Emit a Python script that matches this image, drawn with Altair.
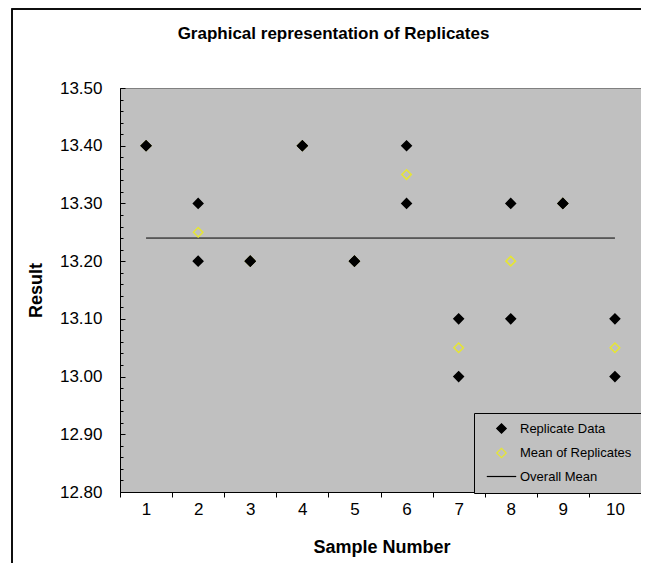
import altair as alt
import pandas as pd
import numpy as np

# ---- data ----
samples = [1, 2, 3, 4, 5, 6, 7, 8, 9, 10]
replicate_1 = [13.40, 13.30, 13.20, 13.40, 13.20, 13.40, 13.10, 13.30, 13.30, 13.10]
replicate_2 = [13.40, 13.20, 13.20, 13.40, 13.20, 13.30, 13.00, 13.10, 13.30, 13.00]
series_names = ["Replicate Data", "Mean of Replicates", "Overall Mean"]

# axis tick values
y_major_ticks = [12.80, 12.90, 13.00, 13.10, 13.20, 13.30, 13.40, 13.50]
y_minor_ticks = [round(12.80 + 0.02 * i, 2) for i in range(36)]
x_boundaries = [0.5 + i for i in range(11)]

FONT = "Liberation Sans"
PLOT_BG = "#C0C0C0"
YELLOW = "#E6E632"
LINE_SYMBOL = "M-3.1,0L3.1,0"  # legend glyph for the overall-mean line

means = [(a + b) / 2 for a, b in zip(replicate_1, replicate_2)]
overall_mean = float(np.mean(replicate_1 + replicate_2))

rows = []
for s, m in zip(samples, means):
    rows.append({"sample": s, "value": m, "series": series_names[1]})
for s, a, b in zip(samples, replicate_1, replicate_2):
    rows.append({"sample": s, "value": a, "series": series_names[0]})
    rows.append({"sample": s, "value": b, "series": series_names[0]})
points_df = pd.DataFrame(rows)

line_df = pd.DataFrame({
    "sample": [samples[0], samples[-1]],
    "value": [overall_mean, overall_mean],
    "series": [series_names[2], series_names[2]],
})

W, H = 521, 404
xscale = alt.Scale(domain=[0.5, 10.5], nice=False, zero=False)
yscale = alt.Scale(domain=[12.8, 13.5], nice=False, zero=False)

legend = alt.Legend(
    title=None, orient="none", legendX=354, legendY=325,
    fillColor=PLOT_BG, strokeColor="black", padding=9, cornerRadius=0,
    labelFont=FONT, labelFontSize=13, labelColor="black", labelOffset=12,
    symbolOffset=12, rowPadding=9.5, symbolStrokeWidth=1.2, symbolSize=90,
)

shape_enc = alt.Shape("series:N", scale=alt.Scale(domain=series_names, range=["diamond", "diamond", LINE_SYMBOL]), legend=legend)
fill_enc = alt.Fill("series:N", scale=alt.Scale(domain=series_names, range=["black", "transparent", "transparent"]), legend=legend)
stroke_enc = alt.Stroke("series:N", scale=alt.Scale(domain=series_names, range=["black", YELLOW, "black"]), legend=legend)

x_main_axis = alt.Axis(
    values=samples, format="d", ticks=False, domain=True, domainColor="black",
    labelFont=FONT, labelFontSize=17, labelColor="black", labelPadding=9,
    labelFlush=False, labelOverlap=False, grid=False, orient="bottom",
    title="Sample Number", titleFont=FONT, titleFontSize=18, titleFontWeight="bold",
    titleColor="black", titleX=W / 2 + 1, titleY=60, titleAlign="center", titleBaseline="alphabetic",
)
y_main_axis = alt.Axis(
    values=y_major_ticks, format=".2f", ticks=False, domain=True, domainColor="black",
    labelFont=FONT, labelFontSize=17, labelColor="black", labelPadding=18,
    labelOverlap=False, grid=False, orient="left",
    title="Result", titleFont=FONT, titleFontSize=18, titleFontWeight="bold",
    titleColor="black", titleX=-79, titleY=H / 2, titleAngle=-90,
    titleAlign="center", titleBaseline="alphabetic",
)

points = alt.Chart(points_df).mark_point(strokeWidth=1.5, opacity=1, size=90).encode(
    x=alt.X("sample:Q", scale=xscale, axis=x_main_axis),
    y=alt.Y("value:Q", scale=yscale, axis=y_main_axis),
    shape=shape_enc, fill=fill_enc, stroke=stroke_enc,
)

mean_line = alt.Chart(line_df).mark_line(strokeWidth=1).encode(
    x=alt.X("sample:Q", scale=xscale, axis=None),
    y=alt.Y("value:Q", scale=yscale, axis=None),
    stroke=stroke_enc,
)

# inside tick marks on the y axis and boundary ticks on the x axis
minor_ticks = alt.Chart(line_df).mark_point(opacity=0).encode(
    x=alt.X("sample:Q", scale=xscale, axis=alt.Axis(
        values=x_boundaries, labels=False, domain=False, ticks=True, tickSize=5,
        tickColor="black", grid=False, orient="bottom", title=None)),
    y=alt.Y("value:Q", scale=yscale, axis=alt.Axis(
        values=y_minor_ticks, labels=False, domain=False, ticks=True, tickSize=3,
        tickColor="black", grid=False, orient="left", offset=-3, title=None)),
)
major_ticks = alt.Chart(line_df).mark_point(opacity=0).encode(
    x=alt.X("sample:Q", scale=xscale, axis=None),
    y=alt.Y("value:Q", scale=yscale, axis=alt.Axis(
        values=y_major_ticks, labels=False, domain=False, ticks=True, tickSize=5,
        tickColor="black", grid=False, orient="left", offset=-5, title=None)),
)

frame = alt.Chart(line_df).mark_rect(fillOpacity=0, stroke="black", strokeWidth=1.5, clip=False).encode(
    x=alt.value(-108), x2=alt.value(700), y=alt.value(-79), y2=alt.value(700),
)

chart = alt.layer(frame, minor_ticks, major_ticks, mean_line, points).resolve_axis(
    x="independent", y="independent"
).properties(
    width=W, height=H,
    background="white",
    autosize=alt.AutoSizeParams(type="none"),
    padding={"left": 112, "top": 80, "right": 0, "bottom": 71},
    title=alt.Title(
        "Graphical representation of Replicates", font=FONT, fontSize=17,
        fontWeight="bold", color="black", anchor="middle", frame="group",
        dx=-47, offset=0, dy=48, baseline="alphabetic",
    ),
).configure_view(
    fill=PLOT_BG, stroke="#808080", strokeWidth=1,
)

chart.save("out.html", embed_options={"renderer": "svg", "actions": False})
